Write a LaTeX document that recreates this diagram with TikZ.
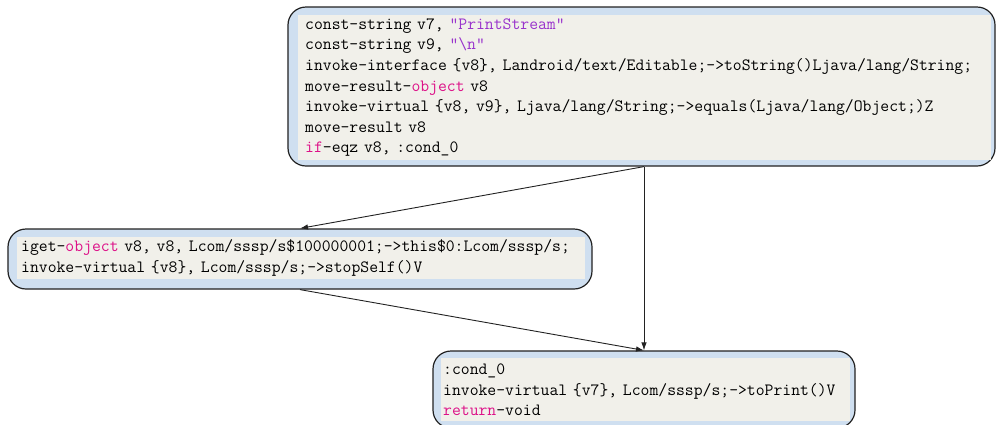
\documentclass[tikz,border=0pt]{standalone}
\usetikzlibrary{arrows.meta}
\definecolor{boxblue}{HTML}{CFDFF0}
\definecolor{codebg}{HTML}{F1F0EA}
\definecolor{kwcol}{HTML}{DD1188}
\definecolor{strcol}{HTML}{9933CC}
\definecolor{inkcol}{HTML}{222222}
\newcommand{\kwd}[1]{\textcolor{kwcol}{#1}}
\newcommand{\strl}[1]{\textcolor{strcol}{#1}}
\begin{document}
\begin{tikzpicture}[x=1bp,y=-1bp,
  block/.style={draw=inkcol, line width=1.2bp, fill=boxblue, rounded corners=18bp, inner sep=0pt},
  code/.style={fill=codebg, inner ysep=0pt, font=\fontsize{17.2bp}{20.6bp}\selectfont\ttfamily,
    align=left, anchor=north west},
  flow/.style={draw=inkcol, line width=0.9bp, -{Latex[length=8bp,width=5.5bp]}}]
\useasboundingbox (0,0) rectangle (996,424);

% basic blocks (outer frames)
\node (top) [block, minimum width=707bp, minimum height=159bp] at (641.5,86.5) {};
\node (stop) [block, minimum width=584bp, minimum height=60bp] at (300,259) {};
\node (cond) [block, minimum width=422bp, minimum height=77bp] at (644,389.5) {};

% code listings
\node (topcode) [code, inner xsep=7bp, text width=679bp, minimum width=693bp, minimum height=145bp] at (298,15) {%
const-string v7, \strl{"PrintStream"}\\
const-string v9, \strl{"\textbackslash n"}\\
invoke-interface \{v8\}, Landroid/text/Editable;->toString()Ljava/lang/String;\\
move-result-\kwd{object} v8\\
invoke-virtual \{v8, v9\}, Ljava/lang/String;->equals(Ljava/lang/Object;)Z\\
move-result v8\\
\kwd{if}-eqz v8, :cond\_0};

\node (stopcode) [code, inner xsep=4bp, text width=560bp, minimum width=568bp, minimum height=42bp] at (17,237) {%
iget-\kwd{object} v8, v8, Lcom/sssp/s\$100000001;->this\$0:Lcom/sssp/s;\\
invoke-virtual \{v8\}, Lcom/sssp/s;->stopSelf()V};

\node (condcode) [code, inner xsep=2bp, text width=405bp, minimum width=409bp, minimum height=63bp] at (441,358) {%
:cond\_0\\
invoke-virtual \{v7\}, Lcom/sssp/s;->toPrint()V\\
\kwd{return}-void};

% control flow
\draw[flow] (top.south -| cond.north) -- (stop.north);
\draw[flow] (top.south -| cond.north) -- (cond.north);
\draw[flow] (stop.south) -- (cond.north);
\end{tikzpicture}
\end{document}
